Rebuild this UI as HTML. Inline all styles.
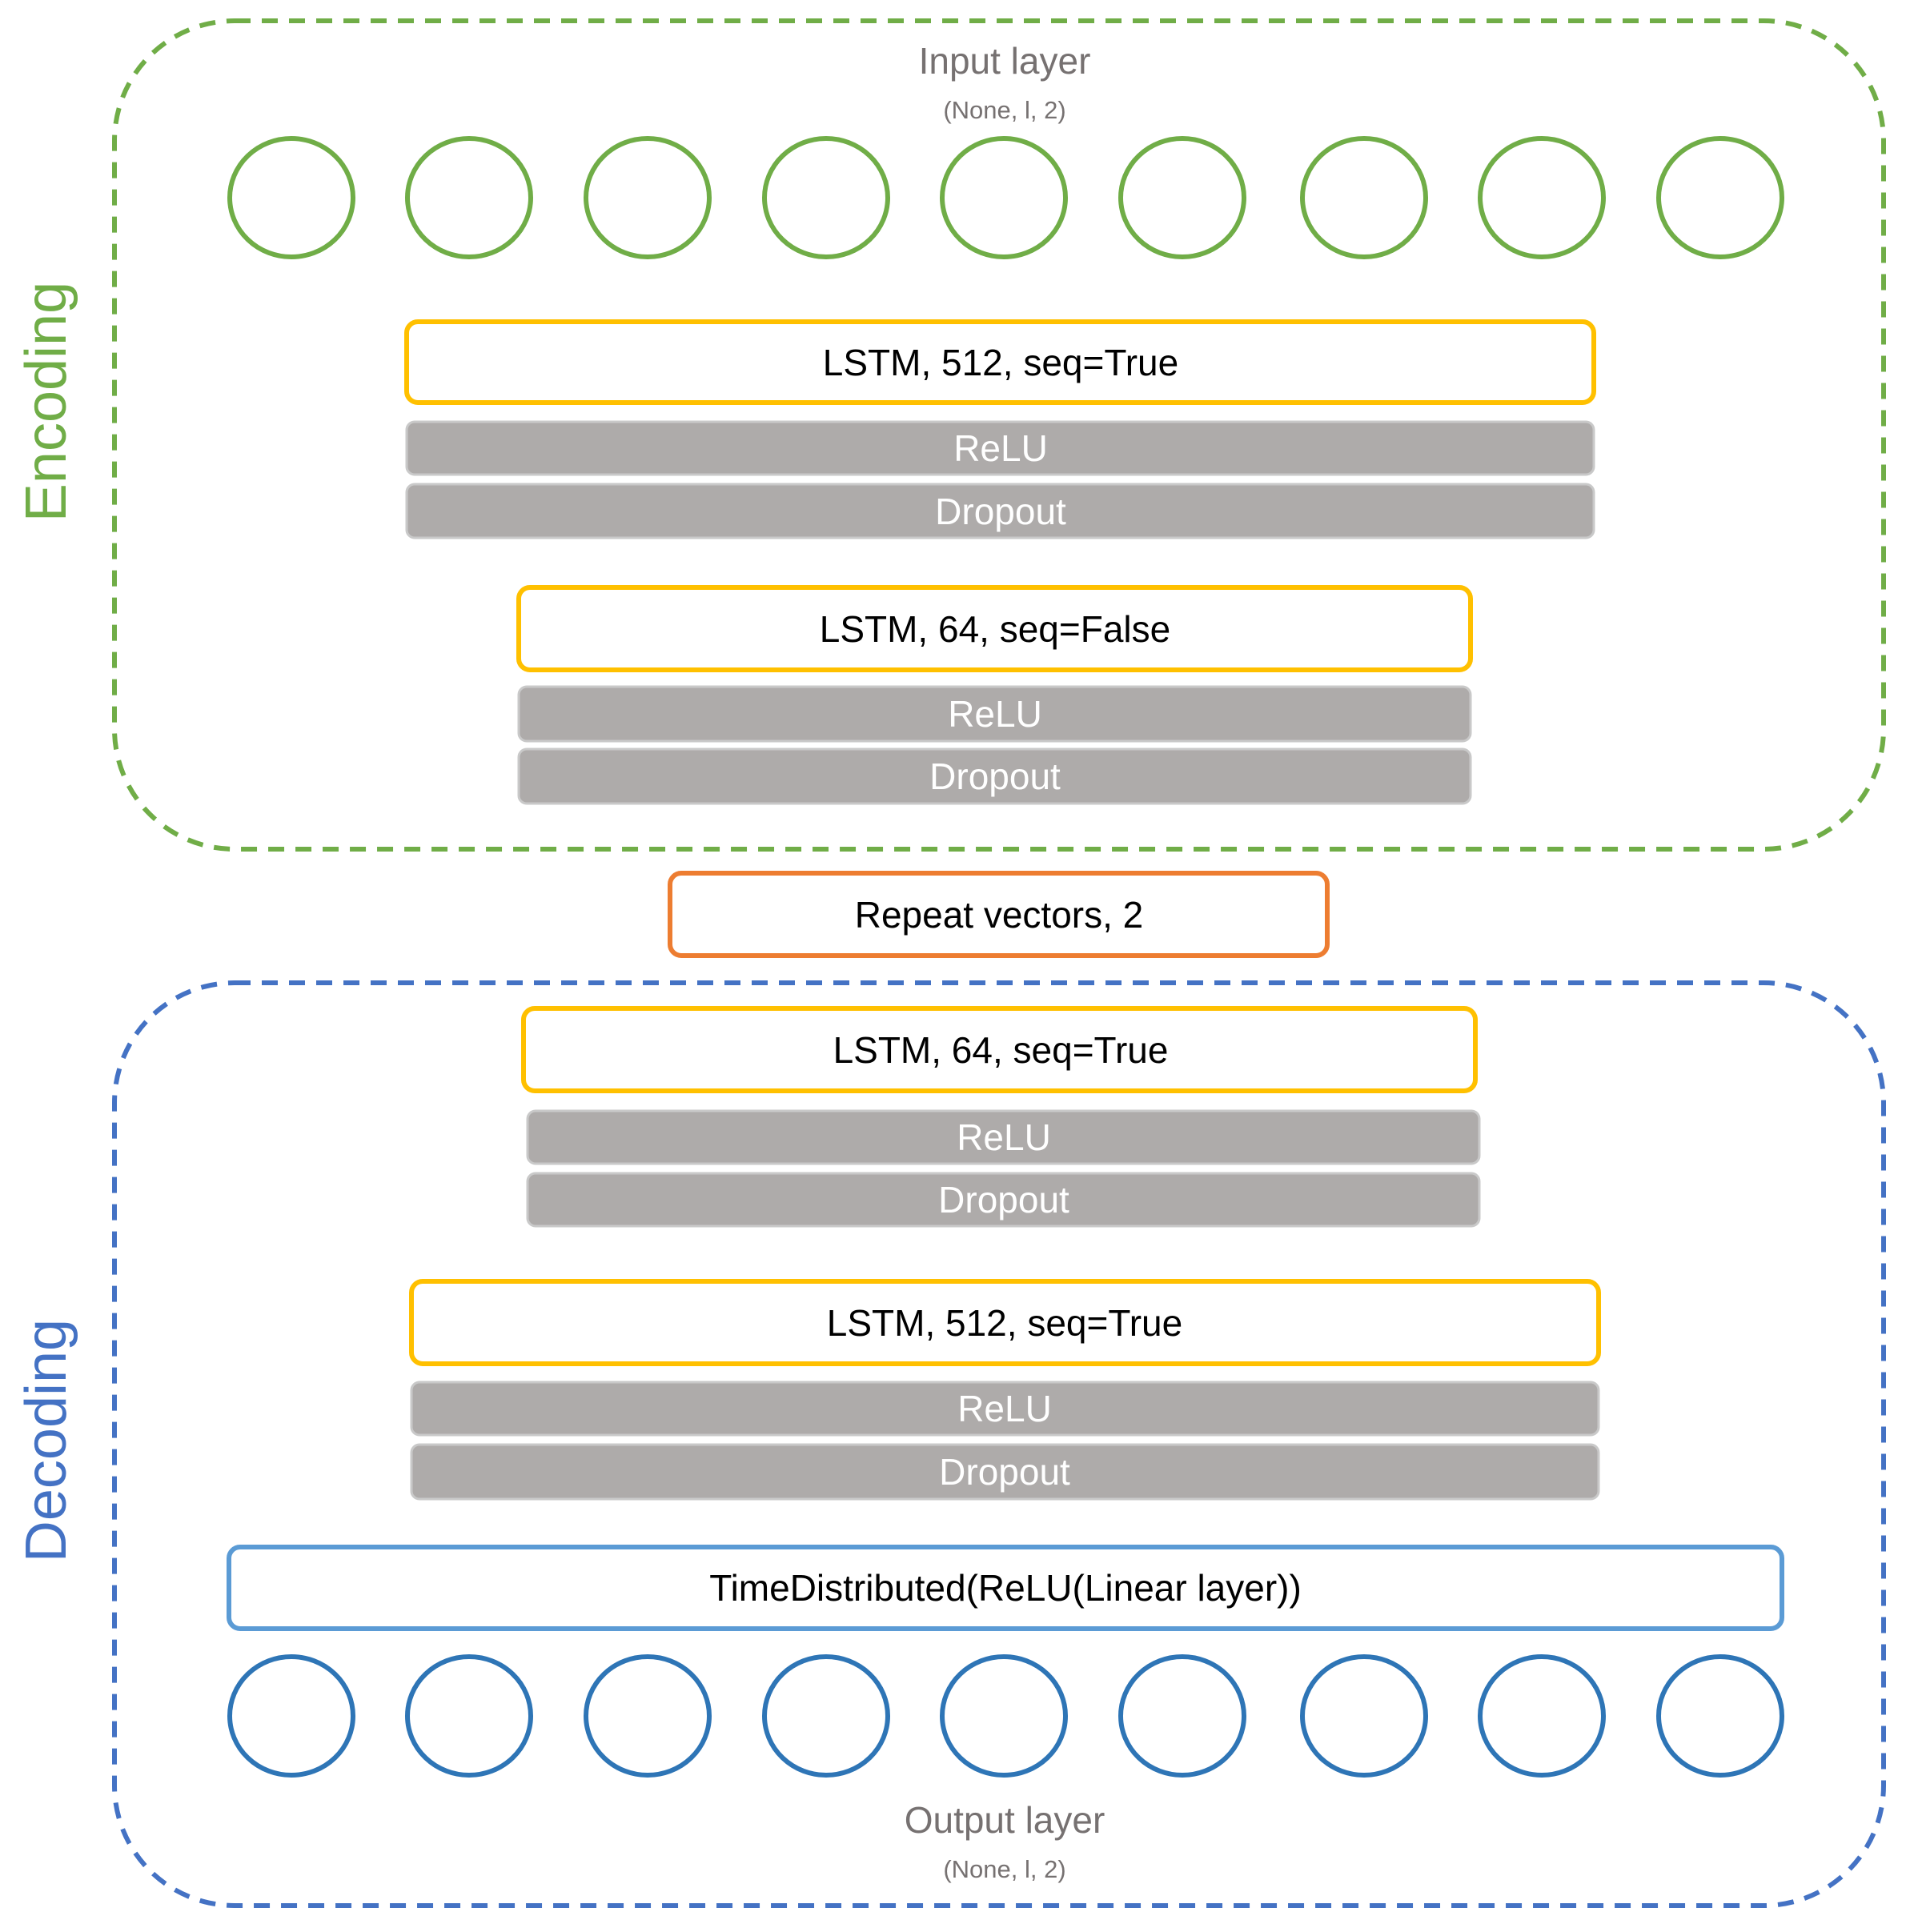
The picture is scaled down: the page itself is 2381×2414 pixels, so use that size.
<!DOCTYPE html>
<html><head><meta charset="utf-8"><style>
html,body{margin:0;padding:0;background:#fff;}
svg{display:block;}
text{font-family:"Liberation Sans",sans-serif;}
</style></head><body>
<svg width="2381" height="2414" viewBox="0 0 2381 2414" xmlns="http://www.w3.org/2000/svg">
<rect x="143" y="26" width="2210" height="1035" rx="150" fill="none" stroke="#70AD47" stroke-width="6" stroke-dasharray="20 14"/>
<rect x="143" y="1228" width="2210" height="1153" rx="150" fill="none" stroke="#4472C4" stroke-width="6" stroke-dasharray="20 14"/>
<text x="58" y="502" transform="rotate(-90 58 502)" text-anchor="middle" dominant-baseline="central" font-size="72" fill="#70AD47">Encoding</text>
<text x="58" y="1800" transform="rotate(-90 58 1800)" text-anchor="middle" dominant-baseline="central" font-size="72" fill="#4472C4">Decoding</text>
<text x="1255" y="92" text-anchor="middle" font-size="46" fill="#767171">Input layer</text>
<text x="1255" y="148" text-anchor="middle" font-size="31" fill="#767171">(None, l, 2)</text>
<g fill="none" stroke="#70AD47" stroke-width="6">
<ellipse cx="364" cy="247" rx="77" ry="74"/><ellipse cx="586" cy="247" rx="77" ry="74"/><ellipse cx="809" cy="247" rx="77" ry="74"/><ellipse cx="1032" cy="247" rx="77" ry="74"/><ellipse cx="1254" cy="247" rx="77" ry="74"/><ellipse cx="1477" cy="247" rx="77" ry="74"/><ellipse cx="1704" cy="247" rx="77" ry="74"/><ellipse cx="1926" cy="247" rx="77" ry="74"/><ellipse cx="2149" cy="247" rx="77" ry="74"/>
</g>
<g fill="none" stroke="#2E75B6" stroke-width="6">
<ellipse cx="364" cy="2144" rx="77" ry="74"/><ellipse cx="586" cy="2144" rx="77" ry="74"/><ellipse cx="809" cy="2144" rx="77" ry="74"/><ellipse cx="1032" cy="2144" rx="77" ry="74"/><ellipse cx="1254" cy="2144" rx="77" ry="74"/><ellipse cx="1477" cy="2144" rx="77" ry="74"/><ellipse cx="1704" cy="2144" rx="77" ry="74"/><ellipse cx="1926" cy="2144" rx="77" ry="74"/><ellipse cx="2149" cy="2144" rx="77" ry="74"/>
</g>
<text x="1255" y="2290" text-anchor="middle" font-size="46" fill="#767171">Output layer</text>
<text x="1255" y="2346" text-anchor="middle" font-size="31" fill="#767171">(None, l, 2)</text>
<g font-size="46" text-anchor="middle" dominant-baseline="central">
<rect x="508" y="402" width="1483" height="101" rx="14" fill="#fff" stroke="#FFC000" stroke-width="6"/>
<text x="1250" y="453" fill="#000">LSTM, 512, seq=True</text>
<rect x="508" y="527" width="1483" height="66" rx="10" fill="#AEABAA" stroke="#C9C9C9" stroke-width="3"/>
<text x="1250" y="560" fill="#fff">ReLU</text>
<rect x="508" y="605" width="1483" height="67" rx="10" fill="#AEABAA" stroke="#C9C9C9" stroke-width="3"/>
<text x="1250" y="639" fill="#fff">Dropout</text>
<rect x="648" y="734" width="1189" height="103" rx="14" fill="#fff" stroke="#FFC000" stroke-width="6"/>
<text x="1243" y="786" fill="#000">LSTM, 64, seq=False</text>
<rect x="648" y="858" width="1189" height="68" rx="10" fill="#AEABAA" stroke="#C9C9C9" stroke-width="3"/>
<text x="1243" y="892" fill="#fff">ReLU</text>
<rect x="648" y="936" width="1189" height="68" rx="10" fill="#AEABAA" stroke="#C9C9C9" stroke-width="3"/>
<text x="1243" y="970" fill="#fff">Dropout</text>
<rect x="837" y="1091" width="821" height="103" rx="14" fill="#fff" stroke="#ED7D31" stroke-width="6"/>
<text x="1248" y="1143" fill="#000">Repeat vectors, 2</text>
<rect x="654" y="1260" width="1189" height="103" rx="14" fill="#fff" stroke="#FFC000" stroke-width="6"/>
<text x="1250" y="1312" fill="#000">LSTM, 64, seq=True</text>
<rect x="659" y="1388" width="1189" height="66" rx="10" fill="#AEABAA" stroke="#C9C9C9" stroke-width="3"/>
<text x="1254" y="1421" fill="#fff">ReLU</text>
<rect x="659" y="1466" width="1189" height="66" rx="10" fill="#AEABAA" stroke="#C9C9C9" stroke-width="3"/>
<text x="1254" y="1499" fill="#fff">Dropout</text>
<rect x="514" y="1601" width="1483" height="103" rx="14" fill="#fff" stroke="#FFC000" stroke-width="6"/>
<text x="1255" y="1653" fill="#000">LSTM, 512, seq=True</text>
<rect x="514" y="1727" width="1483" height="66" rx="10" fill="#AEABAA" stroke="#C9C9C9" stroke-width="3"/>
<text x="1255" y="1760" fill="#fff">ReLU</text>
<rect x="514" y="1805" width="1483" height="68" rx="10" fill="#AEABAA" stroke="#C9C9C9" stroke-width="3"/>
<text x="1255" y="1839" fill="#fff">Dropout</text>
<rect x="286" y="1933" width="1940" height="102" rx="14" fill="#fff" stroke="#5B9BD5" stroke-width="6"/>
<text x="1256" y="1984" fill="#000">TimeDistributed(ReLU(Linear layer))</text>
</g>
</svg>
</body></html>
